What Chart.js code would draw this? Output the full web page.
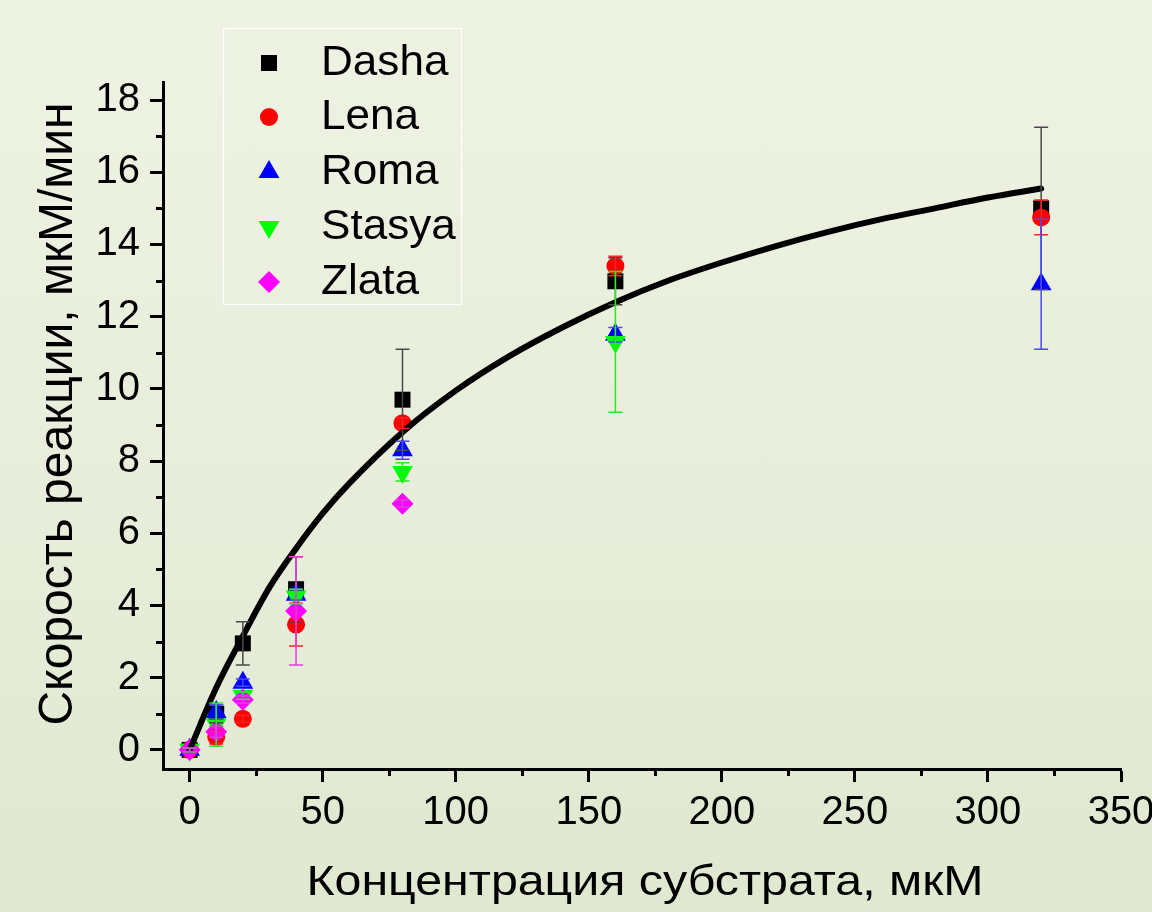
<!DOCTYPE html>
<html><head><meta charset="utf-8">
<script src="https://cdn.jsdelivr.net/npm/chart.js@4.4.1/dist/chart.umd.min.js"></script>
<style>
html,body{margin:0;padding:0;}
body{width:1152px;height:912px;overflow:hidden;background:linear-gradient(180deg,#eef2e3 0%,#e8eedb 50%,#e0e8d0 100%);}
#wrap{position:relative;width:1152px;height:912px;}
canvas{display:block;}
</style></head><body><div id="wrap"><canvas id="c" width="1152" height="912"></canvas></div>
<script>
// ---- data ----
const seriesNames = ['Dasha', 'Lena', 'Roma', 'Stasya', 'Zlata'];

const dashaX   = [0, 10, 20, 40, 80, 160, 320];
const dashaY   = [0.0, 1.0, 2.95, 4.45, 9.7, 12.98, 15.0];
const dashaErr = [0.05, 0.25, 0.6, 0.9, 1.4, 0.65, 2.25];

const lenaX   = [0, 10, 20, 40, 80, 160, 320];
const lenaY   = [0.0, 0.36, 0.86, 3.47, 9.05, 13.4, 14.75];
const lenaErr = [0.05, 0.2, 0.1, 0.59, 0.15, 0.27, 0.48];

const romaX   = [0, 10, 20, 40, 80, 160, 320];
const romaY   = [0.0, 1.05, 1.86, 4.3, 8.3, 11.5, 12.9];
const romaErr = [0.05, 0.2, 0.1, 0.15, 0.25, 0.2, 1.8];

const stasyaX   = [0, 10, 20, 40, 80, 160];
const stasyaY   = [0.0, 0.7, 1.5, 4.25, 7.7, 11.3];
const stasyaErr = [0.05, 0.6, 0.1, 0.2, 0.25, 1.95];

const zlataX   = [0, 10, 20, 40, 80];
const zlataY   = [0.0, 0.5, 1.39, 3.85, 6.82];
const zlataErr = [0.05, 0.15, 0.1, 1.5, 0.1];

// fitted curve
const curveX = [0, 10, 20, 30, 40, 50, 60, 80, 100, 120, 140, 160, 180, 200, 220, 240, 260, 280, 300, 320];
const curveY = [0, 1.72, 3.15, 4.5, 5.58, 6.55, 7.38, 8.8, 9.95, 10.9, 11.7, 12.4, 13.0, 13.5, 13.95, 14.35, 14.7, 15.0, 15.3, 15.55];

const xTitle = 'Концентрация субстрата, мкМ';
const yTitle = 'Скорость реакции, мкМ/мин';
const xMinorTicks = [25, 75, 125, 175, 225, 275, 325];
const yMinorTicks = [1, 3, 5, 7, 9, 11, 13, 15, 17];

// ---- build ----
const FONT = "'Liberation Sans', Arial, sans-serif";
const pts = (xs, ys) => xs.map((x, i) => ({x: x, y: ys[i]}));

const styles = {
  Dasha:  {color: '#000000', err: '#4a4a4a', style: 'rect', r: 11.3, rot: 0},
  Lena:   {color: '#ff0000', err: '#ff2020', style: 'circle', r: 9, rot: 0},
  Roma:   {color: '#0000ff', err: '#4848ff', style: 'triangle', r: 12, rot: 0},
  Stasya: {color: '#00ff00', err: '#22ee22', style: 'triangle', r: 12, rot: 180},
  Zlata:  {color: '#ff00ff', err: '#e040e0', style: 'rectRot', r: 11, rot: 0}
};
const seriesData = {
  Dasha: [dashaX, dashaY, dashaErr],
  Lena: [lenaX, lenaY, lenaErr],
  Roma: [romaX, romaY, romaErr],
  Stasya: [stasyaX, stasyaY, stasyaErr],
  Zlata: [zlataX, zlataY, zlataErr]
};

const datasets = seriesNames.map((n, i) => ({
  label: n,
  type: 'scatter',
  data: pts(seriesData[n][0], seriesData[n][1]),
  errors: seriesData[n][2],
  errColor: styles[n].err,
  backgroundColor: styles[n].color,
  borderColor: styles[n].color,
  pointStyle: styles[n].style,
  pointRadius: styles[n].r,
  pointRotation: styles[n].rot,
  pointBorderWidth: 0,
  order: 5 - i
}));
datasets.push({
  label: 'fit',
  type: 'line',
  data: pts(curveX, curveY),
  borderColor: '#000000',
  borderWidth: 6,
  borderCapStyle: 'round',
  borderJoinStyle: 'round',
  pointRadius: 0,
  cubicInterpolationMode: 'monotone',
  fill: false,
  order: 0
});

const errorBars = {
  id: 'errorBars',
  afterDatasetsDraw(chart) {
    const ctx = chart.ctx, xs = chart.scales.x, ys = chart.scales.y;
    ctx.save();
    chart.data.datasets.forEach(ds => {
      if (!ds.errors) return;
      ctx.strokeStyle = ds.errColor;
      ctx.lineWidth = 1.5;
      ds.data.forEach((p, i) => {
        const e = ds.errors[i];
        const px = xs.getPixelForValue(p.x);
        const top = ys.getPixelForValue(p.y + e);
        const bot = ys.getPixelForValue(p.y - e);
        ctx.beginPath();
        ctx.moveTo(px, top); ctx.lineTo(px, bot);
        ctx.moveTo(px - 7, top); ctx.lineTo(px + 7, top);
        ctx.moveTo(px - 7, bot); ctx.lineTo(px + 7, bot);
        ctx.stroke();
      });
    });
    ctx.restore();
  }
};

const minorTicks = {
  id: 'minorTicks',
  afterDraw(chart) {
    const ctx = chart.ctx, xs = chart.scales.x, ys = chart.scales.y, a = chart.chartArea;
    ctx.save();
    ctx.strokeStyle = '#000'; ctx.lineWidth = 3;
    ctx.beginPath();
    yMinorTicks.forEach(v => { const p = Math.round(ys.getPixelForValue(v)) + 0.5; ctx.moveTo(a.left - 7, p); ctx.lineTo(a.left, p); });
    xMinorTicks.forEach(v => { const p = Math.round(xs.getPixelForValue(v)) + 0.5; ctx.moveTo(p, a.bottom); ctx.lineTo(p, a.bottom + 7); });
    ctx.stroke();
    ctx.restore();
  }
};

const axisTitles = {
  id: 'axisTitles',
  afterDraw(chart) {
    const ctx = chart.ctx, a = chart.chartArea;
    ctx.save();
    ctx.fillStyle = '#000';
    ctx.textAlign = 'center';
    ctx.textBaseline = 'alphabetic';
    // x title
    ctx.save();
    ctx.translate((a.left + a.right) / 2 + 3, 895);
    ctx.scale(1.15, 1);
    ctx.font = '42px ' + FONT;
    ctx.fillText(xTitle, 0, 0);
    ctx.restore();
    // y title
    ctx.save();
    ctx.translate(72, 414);
    ctx.rotate(-Math.PI / 2);
    ctx.font = '48px ' + FONT;
    ctx.fillText(yTitle, 0, 0);
    ctx.restore();
    ctx.restore();
  }
};

function drawMarker(ctx, style, r, rot, x, y) {
  ctx.beginPath();
  if (style === 'rect') {
    const s = Math.SQRT1_2 * r; ctx.rect(x - s, y - s, 2 * s, 2 * s);
  } else if (style === 'circle') {
    ctx.arc(x, y, r, 0, Math.PI * 2);
  } else if (style === 'triangle') {
    const sgn = rot === 180 ? -1 : 1;
    ctx.moveTo(x, y - sgn * r);
    ctx.lineTo(x + r * Math.sqrt(3) / 2, y + sgn * r / 2);
    ctx.lineTo(x - r * Math.sqrt(3) / 2, y + sgn * r / 2);
    ctx.closePath();
  } else if (style === 'rectRot') {
    ctx.moveTo(x, y - r); ctx.lineTo(x + r, y); ctx.lineTo(x, y + r); ctx.lineTo(x - r, y); ctx.closePath();
  }
  ctx.fill();
}

const boxLegend = {
  id: 'boxLegend',
  afterDraw(chart) {
    const ctx = chart.ctx;
    ctx.save();
    ctx.strokeStyle = '#ffffff'; ctx.lineWidth = 1.2;
    ctx.strokeRect(223.5, 28.5, 238, 276);
    const rows = [63, 117, 172, 227, 282];
    ctx.textBaseline = 'alphabetic';
    ctx.textAlign = 'left';
    seriesNames.forEach((n, i) => {
      const st = styles[n];
      ctx.fillStyle = st.color;
      drawMarker(ctx, st.style, st.r, st.rot, 269, rows[i]);
      ctx.fillStyle = '#000';
      ctx.save();
      ctx.translate(321, rows[i] + 12);
      ctx.scale(1.05, 1);
      ctx.font = '42px ' + FONT;
      ctx.fillText(n, 0, 0);
      ctx.restore();
    });
    ctx.restore();
  }
};

new Chart(document.getElementById('c'), {
  type: 'scatter',
  data: {datasets: datasets},
  plugins: [errorBars, minorTicks, boxLegend, axisTitles],
  options: {
    responsive: false,
    animation: false,
    devicePixelRatio: 1,
    layout: {padding: {top: 82, right: 31, left: 0, bottom: 0}},
    plugins: {legend: {display: false}, tooltip: {enabled: false}},
    scales: {
      x: {
        type: 'linear', min: -10, max: 350,
        ticks: {stepSize: 50, includeBounds: false, color: '#000', font: {family: FONT, size: 40}, padding: 7, maxRotation: 0},
        grid: {drawOnChartArea: false, drawTicks: true, tickLength: 13, tickWidth: 3, tickColor: '#000'},
        border: {display: true, color: '#000', width: 3},
        title: {display: false},
        afterFit: s => { s.height = 143; s.paddingLeft = 0; s.paddingRight = 0; }
      },
      y: {
        type: 'linear', min: -0.53, max: 18.5,
        ticks: {stepSize: 2, includeBounds: false, color: '#000', font: {family: FONT, size: 40}, padding: 10},
        grid: {drawOnChartArea: false, drawTicks: true, tickLength: 13, tickWidth: 3, tickColor: '#000'},
        border: {display: true, color: '#000', width: 3},
        title: {display: false},
        afterFit: s => { s.width = 163; s.paddingTop = 0; s.paddingBottom = 0; }
      }
    }
  }
});
</script></body></html>
